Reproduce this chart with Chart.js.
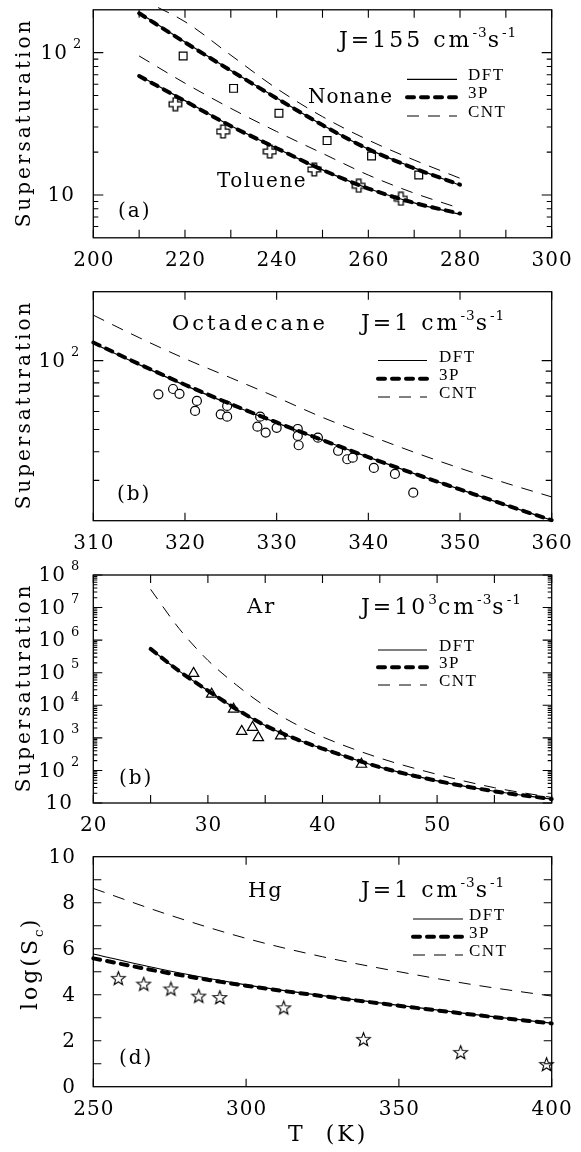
<!DOCTYPE html>
<html><head><meta charset="utf-8">
<script src="https://cdn.jsdelivr.net/npm/chart.js@4.4.0/dist/chart.umd.min.js"></script>
<style>
html,body{margin:0;padding:0;background:#fff;}
#wrap{position:relative;width:581px;height:1152px;overflow:hidden;background:#fff;}
canvas{position:absolute;left:0;top:0;}
</style></head><body><div id="wrap">
<canvas id="pa" width="581" height="1152"></canvas>
<canvas id="pb" width="581" height="1152"></canvas>
<canvas id="pc" width="581" height="1152"></canvas>
<canvas id="pd" width="581" height="1152"></canvas>
</div>
<script>
// ---------- Panel (a): Nonane / Toluene ----------
const aCurveT     = [210, 220, 230, 240, 250, 260, 270, 280];
const aNonaneDFT  = [191, 119, 75.0, 48.0, 31.0, 21.0, 15.5, 11.7];
const aNonane3P   = [189, 118, 74.8, 47.8, 31.0, 21.0, 15.4, 11.8];
const aNonaneCNT  = [240, 165, 96, 56, 35.5, 24.3, 17.6, 13.1];
const aTolueneDFT = [69, 46, 30.6, 21.3, 15.0, 11.1, 8.8, 7.3];
const aToluene3P  = [68.5, 45.7, 30.5, 21.3, 15.0, 11.1, 8.8, 7.4];
const aTolueneCNT = [94.8, 61, 40.6, 27.9, 19.6, 13.8, 10.3, 8.05];
const aNonaneExpT = [219.6, 230.6, 240.5, 251.0, 260.7, 271.0];
const aNonaneExpS = [94.8, 56.1, 37.5, 24.1, 18.8, 13.8];
const aTolueneExpT = [217.9, 228.3, 238.5, 248.2, 257.9, 267.1];
const aTolueneExpS = [43.4, 27.9, 20.2, 15.1, 11.6, 9.4];
const aXTicks  = [200, 210, 220, 230, 240, 250, 260, 270, 280, 290, 300];
const aXLabels = [200, 220, 240, 260, 280, 300];
const aYMajor  = [10, 100];
const aYMinor  = [6, 7, 8, 9, 20, 30, 40, 50, 60, 70, 80, 90];

// ---------- Panel (b): Octadecane ----------
const bCurveT = [310, 315, 320, 325, 330, 335, 340, 345, 350, 355, 360];
const bDFT    = [119, 96.0, 78.0, 64.3, 53.5, 45.0, 37.9, 32.1, 27.4, 23.4, 20.1];
const b3P     = [120, 96.6, 78.5, 64.6, 53.7, 45.0, 37.9, 32.1, 27.4, 23.4, 20.1];
const bCNT    = [158, 126, 102, 84.1, 69.2, 56.5, 47.3, 39.8, 33.9, 29.2, 25.4];
const bExpT = [317.1, 318.7, 319.4, 321.3, 321.1, 323.9, 324.6, 324.6, 327.9, 328.2, 328.8,
               330.0, 332.3, 332.3, 332.4, 334.5, 336.7, 337.7, 338.3, 340.6, 342.9, 344.9];
const bExpS = [71.3, 75.2, 71.6, 66.7, 60.3, 58.3, 63.4, 56.9, 51.5, 56.9, 48.5,
               50.9, 50.3, 46.9, 42.7, 46.1, 40.4, 37.1, 37.7, 34.0, 32.0, 26.5];
const bXTicks  = [310, 320, 330, 340, 350, 360];
const bXLabels = [310, 320, 330, 340, 350, 360];
const bYMajor  = [100];
const bYMinor  = [30, 40, 50, 60, 70, 80, 90];

// ---------- Panel (c): Ar ----------
const cCurveT = [25, 27.5, 30, 32.5, 35, 37.5, 40, 45, 50, 55, 60];
const cDFT    = [537000, 112000, 28200, 7590, 2400, 977, 468, 126, 47.9, 22.9, 13.2];
const c3P     = [537000, 112000, 28200, 7590, 2400, 977, 468, 126, 47.9, 22.9, 13.2];
const cCNT    = [36300000, 2240000, 240000, 41700, 9330, 2820, 1070, 240, 75.9, 29.5, 14.8];
const cExpT = [28.75, 30.33, 32.24, 32.95, 33.9, 34.4, 36.35, 43.4];
const cExpS = [95500, 21900, 7590, 1580, 2090, 1020, 1150, 155];
const cXTicks  = [20, 25, 30, 35, 40, 45, 50, 55, 60];
const cXLabels = [20, 30, 40, 50, 60];
const cYMajor  = [1e1, 1e2, 1e3, 1e4, 1e5, 1e6, 1e7, 1e8];
const cYMinorMult = [2, 3, 4, 5, 6, 7, 8, 9];
const cYLabelExp = [8, 7, 6, 5, 4, 3, 2];

// ---------- Panel (d): Hg ----------
const dCurveT = [250, 275, 300, 325, 350, 375, 400];
const dDFT    = [5.77, 5.03, 4.43, 3.96, 3.54, 3.13, 2.76];
const d3P     = [5.58, 4.93, 4.39, 3.94, 3.52, 3.12, 2.75];
const dCNT    = [8.62, 7.46, 6.45, 5.65, 5.00, 4.42, 3.94];
const dExpT = [258.2, 266.5, 275.4, 284.5, 291.4, 312.3, 338.4, 370.2, 398.3];
const dExpS = [4.71, 4.46, 4.25, 3.94, 3.88, 3.43, 2.06, 1.49, 0.97];
const dXTicks  = [250, 300, 350, 400];
const dXLabels = [250, 300, 350, 400];
const dYTicks  = [1, 2, 3, 4, 5, 6, 7, 8, 9];
const dYLabels = [0, 2, 4, 6, 8, 10];

const legendNames = ['DFT', '3P', 'CNT'];

// ---------- helpers ----------
const FONT = '"DejaVu Serif", serif';
const LFONT = '"Liberation Serif", serif';
const W = 581, H = 1152, BL = 93.3, BR = 551.7;

function pts(xs, ys){ return xs.map((x,i)=>({x:x, y:ys[i]})); }
function curve(xs, ys, kind){
  const base = {data: pts(xs, ys), showLine: true, pointRadius: 0, fill: false,
    borderColor: '#000', cubicInterpolationMode: 'monotone', clip: 3};
  if (kind === 'DFT') return Object.assign(base, {borderWidth: 1.2});
  if (kind === '3P')  return Object.assign(base, {borderWidth: 4, borderDash: [7, 7], borderCapStyle: 'round'});
  return Object.assign(base, {borderWidth: 1, borderDash: [12, 9]});
}
function markers(xs, ys, style, r){
  return {data: pts(xs, ys), showLine: false, pointStyle: style, pointRadius: r,
    pointHoverRadius: r, backgroundColor: '#fff', borderColor: '#000', borderWidth: 1.2, clip: false};
}
function makeCross(){
  const c = document.createElement('canvas'); c.width = c.height = 15;
  const g = c.getContext('2d'); const a = 2.3, b = 6.3;
  g.translate(7.5, 7.5); g.beginPath();
  g.moveTo(-a,-b); g.lineTo(a,-b); g.lineTo(a,-a); g.lineTo(b,-a); g.lineTo(b,a); g.lineTo(a,a);
  g.lineTo(a,b); g.lineTo(-a,b); g.lineTo(-a,a); g.lineTo(-b,a); g.lineTo(-b,-a); g.lineTo(-a,-a);
  g.closePath(); g.fillStyle = '#fff'; g.fill(); g.lineWidth = 1.3; g.strokeStyle = '#000'; g.stroke();
  return c;
}
function makeStar(){
  const c = document.createElement('canvas'); c.width = c.height = 17;
  const g = c.getContext('2d'); g.translate(8.5, 9);
  g.beginPath();
  for (let i = 0; i < 10; i++){
    const r = i % 2 ? 3.0 : 7.2; const ang = -Math.PI/2 + i*Math.PI/5;
    const x = r*Math.cos(ang), y = r*Math.sin(ang);
    i ? g.lineTo(x,y) : g.moveTo(x,y);
  }
  g.closePath(); g.fillStyle = '#fff'; g.fill(); g.lineWidth = 1.1; g.strokeStyle = '#000'; g.stroke();
  return c;
}
function setSp(ctx, px){ if ('letterSpacing' in ctx) ctx.letterSpacing = px + 'px'; }
function drawRich(ctx, x, y, parts, size, sp){
  let cx = x;
  for (const p of parts){
    const small = p.sup || p.sub;
    const s = small ? size*0.62 : size;
    ctx.font = s + 'px ' + FONT;
    setSp(ctx, small ? 1 : sp);
    const dy = p.sup ? -size*0.45 : (p.sub ? size*0.25 : 0);
    ctx.fillText(p.t, cx, y + dy);
    cx += ctx.measureText(p.t).width + (p.gap || 0);
  }
  setSp(ctx, 0);
  return cx;
}
function rotText(ctx, txt, x, y, size, spacing){
  ctx.save(); ctx.translate(x, y); ctx.rotate(-Math.PI/2);
  ctx.font = size + 'px ' + FONT; ctx.textAlign = 'center'; ctx.textBaseline = 'middle';
  setSp(ctx, spacing);
  ctx.fillText(txt, spacing/2, 0);
  ctx.restore();
}
function hline(ctx, x1, x2, y, kind){
  ctx.save(); ctx.strokeStyle = '#000';
  if (kind === 'DFT'){ ctx.lineWidth = 1.2; ctx.setLineDash([]); }
  else if (kind === '3P'){ ctx.lineWidth = 4; ctx.setLineDash([7,7]); ctx.lineCap = 'round'; }
  else { ctx.lineWidth = 1; ctx.setLineDash([12,9]); }
  ctx.beginPath(); ctx.moveTo(x1, y); ctx.lineTo(x2, y); ctx.stroke(); ctx.restore();
}

function panelPlugin(spec){
  return {
    id: 'frame' + spec.id,
    afterDraw(chart){
      const ctx = chart.ctx, ca = chart.chartArea, xs = chart.scales.x, ys = chart.scales.y;
      ctx.save();
      ctx.strokeStyle = '#000'; ctx.fillStyle = '#000'; ctx.lineWidth = 1.3;
      ctx.strokeRect(ca.left, ca.top, ca.right - ca.left, ca.bottom - ca.top);
      ctx.lineWidth = 1.1;
      ctx.beginPath();
      for (const t of spec.xTicks){
        const px = xs.getPixelForValue(t);
        ctx.moveTo(px, ca.bottom); ctx.lineTo(px, ca.bottom - 8);
        ctx.moveTo(px, ca.top); ctx.lineTo(px, ca.top + 8);
      }
      for (const [vals, len] of spec.yTicks){
        for (const t of vals){
          const py = ys.getPixelForValue(t);
          ctx.moveTo(ca.left, py); ctx.lineTo(ca.left + len, py);
          ctx.moveTo(ca.right, py); ctx.lineTo(ca.right - len, py);
        }
      }
      ctx.stroke();
      // x labels
      ctx.font = '20px ' + FONT; ctx.textAlign = 'center'; ctx.textBaseline = 'middle';
      setSp(ctx, 1);
      for (const t of spec.xLabels){
        ctx.fillText(String(t), xs.getPixelForValue(t) + 0.5, ca.bottom + 23);
      }
      // y labels
      for (const L of spec.yLabels){
        const py = ys.getPixelForValue(L.v);
        ctx.textAlign = 'right'; ctx.font = '20px ' + FONT; setSp(ctx, 1);
        ctx.fillText(L.t, L.x, py + 1);
        if (L.sup){ ctx.textAlign = 'left'; ctx.font = '13px ' + FONT; setSp(ctx, 0); ctx.fillText(L.sup, L.x + 5, py - 8); }
      }
      setSp(ctx, 0);
      ctx.textAlign = 'left'; ctx.textBaseline = 'alphabetic';
      for (const T of spec.texts){ drawRich(ctx, T.x, T.y, T.parts, T.size || 21, T.sp == null ? 3 : T.sp); }
      // legend
      const lg = spec.legend;
      ['DFT','3P','CNT'].forEach((k, i) => {
        const y = lg.y[i];
        hline(ctx, lg.x1, lg.x2, y, k);
        ctx.font = '17px ' + LFONT; ctx.fillStyle = '#000'; setSp(ctx, 1.5);
        ctx.fillText(legendNames[i], lg.tx, y + 1);
        setSp(ctx, 0);
      });
      if (spec.yTitle){ rotText(ctx, spec.yTitle.t, spec.yTitle.x, spec.yTitle.y, spec.yTitle.size, spec.yTitle.sp); }
      if (spec.extra) spec.extra(ctx);
      ctx.restore();
    }
  };
}

function makeChart(id, spec, datasets, xr, yr, ytype, box){
  return new Chart(document.getElementById(id), {
    type: 'scatter',
    data: {datasets: datasets},
    options: {
      responsive: false, animation: false, devicePixelRatio: 1,
      layout: {padding: {left: box.l, right: W - box.r, top: box.t, bottom: H - box.b}},
      plugins: {legend: {display: false}, tooltip: {enabled: false}},
      scales: {
        x: {type: 'linear', min: xr[0], max: xr[1], display: false},
        y: {type: ytype, min: yr[0], max: yr[1], display: false}
      }
    },
    plugins: [panelPlugin(spec)]
  });
}

const crossImg = makeCross(), starImg = makeStar();
const sup = (t) => ({t: t, sup: true});
const n = (t, gap) => ({t: t, gap: gap || 0});

// Panel (a)
makeChart('pa', {
  id: 'a', xTicks: aXTicks, xLabels: aXLabels,
  yTicks: [[aYMajor, 10], [aYMinor, 5]],
  yLabels: [{v: 100, t: '10', sup: '2', x: 68}, {v: 10, t: '10', x: 75}],
  texts: [
    {x: 339, y: 47, parts: [n('J=155 '), n('cm'), sup('-3'), n('s'), sup('-1')], size: 22},
    {x: 308, y: 103, parts: [n('Nonane')], size: 20, sp: 1},
    {x: 217, y: 187, parts: [n('Toluene')], size: 20, sp: 1.5},
    {x: 118, y: 217, parts: [n('(a)')], size: 20, sp: 2}
  ],
  legend: {x1: 407, x2: 457, tx: 468, y: [79.3, 97.3, 116]},
  yTitle: {t: 'Supersaturation', x: 25, y: 124, size: 20, sp: 3}
}, [
  curve(aCurveT, aNonaneDFT, 'DFT'), curve(aCurveT, aNonane3P, '3P'), curve(aCurveT, aNonaneCNT, 'CNT'),
  curve(aCurveT, aTolueneDFT, 'DFT'), curve(aCurveT, aToluene3P, '3P'), curve(aCurveT, aTolueneCNT, 'CNT'),
  markers(aNonaneExpT, aNonaneExpS, 'rect', 5.5), markers(aTolueneExpT, aTolueneExpS, crossImg, 6)
], [200, 300], [5, 200], 'logarithmic', {l: BL, r: BR, t: 9.8, b: 237.8});

// Panel (b)
makeChart('pb', {
  id: 'b', xTicks: bXTicks, xLabels: bXLabels,
  yTicks: [[bYMajor, 10], [bYMinor, 6]],
  yLabels: [{v: 100, t: '10', sup: '2', x: 66}],
  texts: [
    {x: 172, y: 330, parts: [n('Octadecane')], size: 21, sp: 3},
    {x: 361, y: 330, parts: [n('J=1 '), n('cm'), sup('-3'), n('s'), sup('-1')], size: 22},
    {x: 117, y: 500, parts: [n('(b)')], size: 20, sp: 2}
  ],
  legend: {x1: 378, x2: 427, tx: 439, y: [360.5, 378.8, 397]},
  yTitle: {t: 'Supersaturation', x: 25, y: 406, size: 20, sp: 3}
}, [
  curve(bCurveT, bDFT, 'DFT'), curve(bCurveT, b3P, '3P'), curve(bCurveT, bCNT, 'CNT'),
  markers(bExpT, bExpS, 'circle', 4.5)
], [310, 360], [20, 200], 'logarithmic', {l: BL, r: BR, t: 291.7, b: 520.7});

// Panel (c)
const cYMinor = [];
for (const m of cYMajor.slice(0, 7)) for (const k of cYMinorMult) cYMinor.push(m*k);
const cYLabels = cYLabelExp.map(e => ({v: Math.pow(10, e), t: '10', sup: String(e), x: 66}));
cYLabels.push({v: 10, t: '10', x: 73});
makeChart('pc', {
  id: 'c', xTicks: cXTicks, xLabels: cXLabels,
  yTicks: [[cYMajor, 9], [cYMinor, 4]],
  yLabels: cYLabels,
  texts: [
    {x: 247, y: 613, parts: [n('Ar')], size: 21, sp: 2},
    {x: 361, y: 614, parts: [n('J=10'), sup('3'), n('cm'), sup('-3'), n('s'), sup('-1')], size: 22},
    {x: 119, y: 784, parts: [n('(b)')], size: 20, sp: 2}
  ],
  legend: {x1: 378, x2: 427, tx: 439, y: [650, 667.3, 685]},
  yTitle: {t: 'Supersaturation', x: 25, y: 689, size: 20, sp: 3}
}, [
  curve(cCurveT, cDFT, 'DFT'), curve(cCurveT, c3P, '3P'), curve(cCurveT, cCNT, 'CNT'),
  markers(cExpT, cExpS, 'triangle', 6)
], [20, 60], [10, 1e8], 'logarithmic', {l: BL, r: BR, t: 575, b: 803});

// Panel (d)
makeChart('pd', {
  id: 'd', xTicks: dXTicks, xLabels: dXLabels,
  yTicks: [[dYTicks, 8]],
  yLabels: dYLabels.map(v => ({v: v, t: String(v), x: 76})),
  texts: [
    {x: 248, y: 897, parts: [n('Hg')], size: 21, sp: 2},
    {x: 361, y: 897, parts: [n('J=1 '), n('cm'), sup('-3'), n('s'), sup('-1')], size: 22},
    {x: 119, y: 1064, parts: [n('(d)')], size: 20, sp: 2},
    {x: 288, y: 1141, parts: [n('T  (K)')], size: 22, sp: 3}
  ],
  legend: {x1: 413, x2: 463, tx: 469, y: [919, 936.7, 955]},
  extra(ctx){
    ctx.save(); ctx.translate(37, 964); ctx.rotate(-Math.PI/2);
    ctx.textAlign = 'left';
    drawRich(ctx, -46, 0, [n('log(S'), {t: 'c', sub: true}, n(')')], 22, 3);
    ctx.restore();
  }
}, [
  curve(dCurveT, dDFT, 'DFT'), curve(dCurveT, d3P, '3P'), curve(dCurveT, dCNT, 'CNT'),
  markers(dExpT, dExpS, starImg, 8)
], [250, 400], [0, 10], 'linear', {l: BL, r: BR, t: 856.7, b: 1086.7});
</script></body></html>
